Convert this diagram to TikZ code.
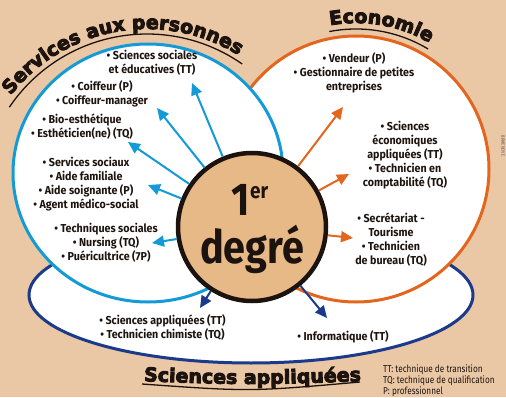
\documentclass[tikz,border=0pt]{standalone}
\usepackage{fontspec}
\usetikzlibrary{arrows.meta,decorations.text}
\setmainfont{Fira Sans}
\newfontfamily\bodyfont{Fira Sans}[FakeStretch=0.93]
\newfontfamily\bigfont{Fira Sans}[FakeStretch=0.86]
\newfontfamily\legfont{Fira Sans}[FakeStretch=0.82]
\newfontfamily\titlefont{DejaVu Sans}
\newcommand\heavytitle{\titlefont\bfseries\fontsize{19}{19}\selectfont\special{pdf:literal direct 2 Tr 0.9 w}}
\definecolor{bgcol}{HTML}{EBC8A5}
\definecolor{centrefill}{HTML}{E6B987}
\definecolor{cblue}{HTML}{149AD6}
\definecolor{corange}{HTML}{E2661E}
\definecolor{cnavy}{HTML}{1B3A8B}
\definecolor{outl}{HTML}{1D130E}
\definecolor{txtcol}{HTML}{1E140F}
\tikzset{
  txt/.style={align=center, font=\bodyfont\bfseries\fontsize{11.5}{14}\selectfont, text=txtcol, inner sep=0pt},
  barrow/.style={draw=cblue, line width=2pt, -{Triangle[length=12pt,width=11pt]}},
  oarrow/.style={draw=corange, line width=2pt, -{Triangle[length=12pt,width=11pt]}},
  narrow/.style={draw=cnavy, line width=2pt, -{Triangle[length=12pt,width=11pt]}},
  uline/.style={draw=outl, line width=1.3pt},
}
\begin{document}
\begin{tikzpicture}[x=1pt,y=1pt]
\useasboundingbox (0,0) rectangle (506,397);
\fill[bgcol] (0,0) rectangle (506,397);
% domains
\draw[cnavy, line width=3pt, fill=white] (251,102) ellipse [x radius=222, y radius=68];
\draw[corange, line width=3pt, fill=white] (356,228) circle [radius=133];
\draw[cblue, line width=3pt, fill=white] (148,224) ellipse [x radius=135, y radius=129];
% titles
\begin{scope}
\path[decorate, decoration={text along path, text align=center, text color=outl,
  text={|\heavytitle|Services aux personnes}}]
  (147,195) ++(155:173) arc[start angle=155, end angle=45, radius=173];
\end{scope}
\begin{scope}
\path[decorate, decoration={text along path, text align=center, text color=outl,
  text={|\heavytitle|Economie}}]
  (356,228) ++(115:146) arc[start angle=115, end angle=45, radius=146];
\end{scope}
\begin{scope}
\path[decorate, decoration={text along path, text align=center, text color=outl,
  text={|\heavytitle|Sciences appliquées}}]
  (115,17) .. controls (252,11.7) .. (390,17);
\end{scope}
\draw[uline] (147,197) ++(146:166) arc[start angle=146, end angle=55, radius=166];
\draw[uline] (356,228) ++(101:140) arc[start angle=101, end angle=59, radius=140];
\draw[uline] (142,13) .. controls (250,5.3) .. (360,15);
% texts
\node[txt] (s1) at (152,334.5) {• Sciences sociales\\et éducatives (TT)};
\node[txt] (s2) at (102,303) {• Coiffeur (P)\\• Coiffeur-manager};
\node[txt] (s3) at (82,270.5) {• Bio-esthétique\\• Esthéticien(ne) (TQ)};
\node[txt] (s4) at (86,213) {• Services sociaux\\• Aide familiale\\• Aide soignante (P)\\• Agent médico-social};
\node[txt] (s5) at (106,154) {• Techniques sociales\\• Nursing (TQ)\\• Puéricultrice (7P)};
\node[txt] (e1) at (354,324) {• Vendeur (P)\\• Gestionnaire de petites\\entreprises};
\node[txt] (e2) at (405,242) {• Sciences\\économiques\\appliquées (TT)\\• Technicien en\\comptabilité (TQ)};
\node[txt] (e3) at (391,157.5) {• Secrétariat -\\Tourisme\\• Technicien\\de bureau (TQ)};
\node[txt] (a1) at (162.5,70) {• Sciences appliquées (TT)\\• Technicien chimiste (TQ)};
\node[txt] (a2) at (343,60) {• Informatique (TT)};
% legend
\node[anchor=west, align=left, inner sep=0pt, text=txtcol, font=\legfont\fontsize{10}{11}\selectfont] (leg) at (383,16)
  {TT: technique de transition\\TQ: technique de qualification\\P: professionnel};
\node[rotate=-90, inner sep=0pt, text=outl!70, font=\legfont\fontsize{5}{5}\selectfont] (sig) at (503,251) {BRMENOVE};
% centre
\node[circle, draw=outl, line width=4.5pt, fill=centrefill, minimum size=148pt, inner sep=0pt] (deg) at (252,170) {};
\node[anchor=base, inner sep=0pt, text=outl, font=\bigfont\bfseries\fontsize{46}{46}\selectfont] (one) at (250,182)
  {1\raisebox{17pt}{\fontsize{22}{22}\selectfont er}};
\node[anchor=base, inner sep=0pt, text=outl, font=\bigfont\bfseries\fontsize{46}{46}\selectfont] (dg) at (252,134) {degré};
% arrow tips
\coordinate (t1) at (192,314);
\coordinate (t2) at (157,289);
\coordinate (t3) at (128,255);
\coordinate (t4) at (148,212);
\coordinate (t5) at (152,154);
\coordinate (o1) at (343,290);
\coordinate (o2) at (349,223);
\coordinate (o3) at (353,159);
\coordinate (n1) at (200,89);
\coordinate (n2) at (327,79);
\draw[barrow] (deg) -- (t1);
\draw[barrow] (deg) -- (t2);
\draw[barrow] (deg) -- (t3);
\draw[barrow] (deg) -- (t4);
\draw[barrow] (deg) -- (t5);
\draw[oarrow] (deg) -- (o1);
\draw[oarrow] (deg) -- (o2);
\draw[oarrow] (deg) -- (o3);
\draw[narrow] (deg) -- (n1);
\draw[narrow] (deg) -- (n2);
\end{tikzpicture}
\end{document}
